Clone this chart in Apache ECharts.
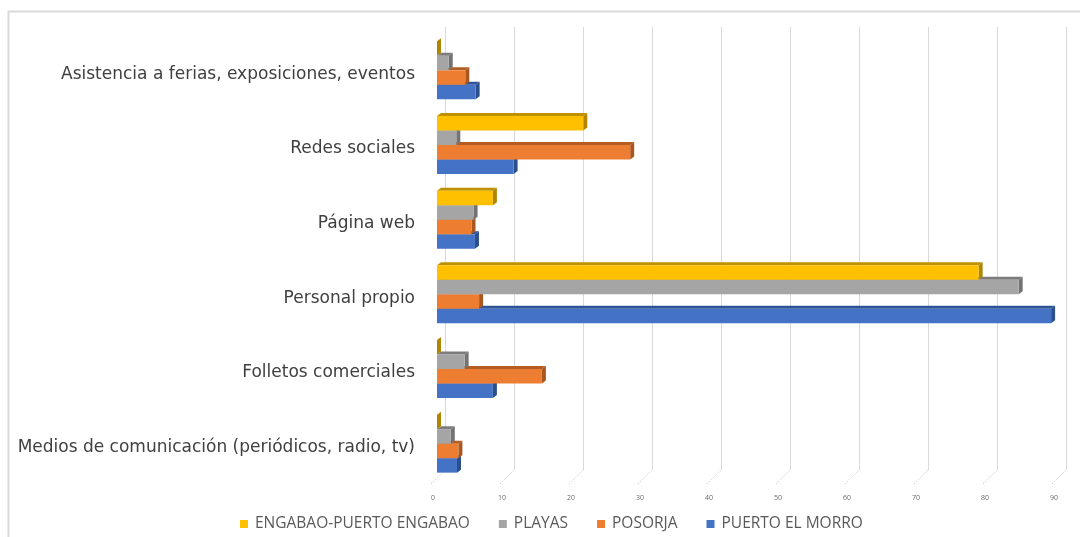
<!DOCTYPE html>
<html>
<head>
<meta charset="utf-8">
<style>
  html, body { margin: 0; padding: 0; background: #ffffff; }
  #chart { width: 1080px; height: 537px; }
</style>
<script src="https://cdn.jsdelivr.net/npm/echarts@6/dist/echarts.min.js"></script>
</head>
<body>
<div id="chart"></div>
<script>
// Categories, listed bottom to top along the vertical axis
const categories = [
  'Medios de comunicación (periódicos, radio, tv)',
  'Folletos comerciales',
  'Personal propio',
  'Página web',
  'Redes sociales',
  'Asistencia a ferias, exposiciones, eventos'
];

// Values per locality, same order as categories
const engabao = [0, 0, 78.5, 8.1, 21.2, 0];
const playas  = [2.0, 4.0, 84.3, 5.3, 2.8, 1.7];
const posorja = [3.1, 15.2, 6.1, 5.0, 28.0, 4.1];
const morro   = [2.9, 8.1, 89.0, 5.5, 11.1, 5.6];

// Value axis ticks
const xTicks = [0, 10, 20, 30, 40, 50, 60, 70, 80, 90];

// Series as drawn from the bottom of each group upwards
const seriesDefs = [
  { name: 'PUERTO EL MORRO',        values: morro,   front: '#4472C4', top: '#2F5597', side: '#2B4F8C' },
  { name: 'POSORJA',                values: posorja, front: '#ED7D31', top: '#B45D22', side: '#A9561F' },
  { name: 'PLAYAS',                 values: playas,  front: '#A5A5A5', top: '#7C7C7C', side: '#737373' },
  { name: 'ENGABAO-PUERTO ENGABAO', values: engabao, front: '#FFC000', top: '#BF9000', side: '#B08500' }
];

const DX = 4, DY = 3;          // depth of the pseudo-3D faces
const BAR_FRAC = 0.194;        // bar thickness as share of a category band

function makeBarRenderer(k, def) {
  return function (params, api) {
    const v = api.value(0);
    const cat = api.value(1);
    const base = api.coord([0, cat]);
    const end = api.coord([v, cat]);
    const band = api.size([0, 1])[1];
    const h = band * BAR_FRAC;
    const y1 = base[1] + 2 * h - (k + 1) * h;
    const x0 = base[0], x1 = end[0];
    return {
      type: 'group',
      children: [
        { type: 'polygon',
          shape: { points: [[x0, y1], [x1, y1], [x1 + DX, y1 - DY], [x0 + DX, y1 - DY]] },
          style: { fill: def.top } },
        { type: 'polygon',
          shape: { points: [[x1, y1], [x1 + DX, y1 - DY], [x1 + DX, y1 + h - DY], [x1, y1 + h]] },
          style: { fill: def.side } },
        { type: 'rect',
          shape: { x: x0, y: y1, width: Math.max(0, x1 - x0), height: h },
          style: { fill: def.front } }
      ]
    };
  };
}

const barSeries = seriesDefs.map((def, k) => ({
  type: 'custom',
  name: def.name,
  xAxisIndex: 0,
  yAxisIndex: 0,
  itemStyle: { color: def.front },
  encode: { x: 0, y: 1 },
  data: def.values.map((v, i) => [v, i]),
  renderItem: makeBarRenderer(k, def),
  z: 3
}));

// Small dotted floor marks joining each back gridline to its label
const floorTicks = {
  type: 'custom',
  xAxisIndex: 0,
  yAxisIndex: 0,
  silent: true,
  encode: { x: 0 },
  data: xTicks.map(t => [t, 0]),
  renderItem: function (params, api) {
    const p = api.coord([api.value(0), 0]);
    const bottom = params.coordSys.y + params.coordSys.height;
    return {
      type: 'line',
      shape: { x1: p[0] - 6, y1: bottom + 3, x2: p[0] + 8, y2: bottom - 11 },
      style: { stroke: '#D0D0D0', lineWidth: 1, lineDash: [1.5, 1.5] }
    };
  },
  z: 1
};

const chart = echarts.init(document.getElementById('chart'));
chart.setOption({
  backgroundColor: '#ffffff',
  animation: false,
  graphic: [{
    type: 'rect',
    shape: { x: 8.5, y: 11.5, width: 1200, height: 700 },
    style: { fill: 'none', stroke: '#D9D9D9', lineWidth: 2 },
    silent: true
  }],
  grid: [
    { left: 437, right: 22, top: 33, bottom: 56 },
    { left: 445, right: 14, top: 27, bottom: 67 }
  ],
  xAxis: [
    {
      gridIndex: 0, type: 'value', min: 0, max: 90, interval: 10,
      axisLine: { show: false }, axisTick: { show: false }, splitLine: { show: false },
      axisLabel: {
        margin: 13, fontSize: 7, color: '#6a6a6a', fontFamily: 'Open Sans',
        padding: [0, 8, 0, 0]
      }
    },
    {
      gridIndex: 1, type: 'value', min: 0, max: 90, interval: 10,
      axisLine: { show: false }, axisTick: { show: false }, axisLabel: { show: false },
      splitLine: { show: true, lineStyle: { color: '#D9D9D9', width: 1 } }
    }
  ],
  yAxis: [
    {
      gridIndex: 0, type: 'category', data: categories,
      axisLine: { show: false }, axisTick: { show: false }, splitLine: { show: false },
      axisLabel: { margin: 22, fontSize: 17, color: '#404040', fontFamily: 'DejaVu Sans',
                   verticalAlign: 'top', lineHeight: 8 }
    },
    {
      gridIndex: 1, type: 'category', data: categories, show: false
    }
  ],
  legend: {
    data: ['ENGABAO-PUERTO ENGABAO', 'PLAYAS', 'POSORJA', 'PUERTO EL MORRO'],
    left: 235, top: 511,
    icon: 'rect', itemWidth: 8, itemHeight: 8, itemGap: 29,
    textStyle: { fontSize: 15.5, color: '#595959', fontFamily: 'Open Sans', padding: [0, 0, 0, 2] }
  },
  series: barSeries.concat([floorTicks])
});
</script>
</body>
</html>
